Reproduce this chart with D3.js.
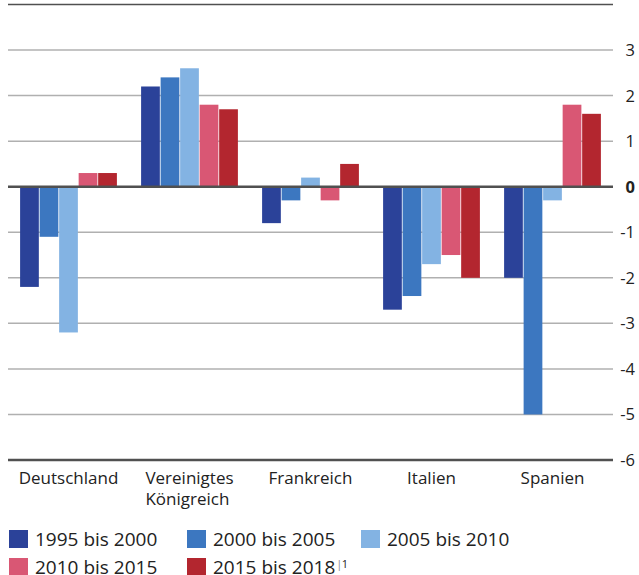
<!DOCTYPE html>
<html>
<head>
<meta charset="utf-8">
<script src="https://cdn.jsdelivr.net/npm/d3@7"></script>
<style>
  body { margin: 0; background: #fff; }
  text { font-family: "Open Sans", "Noto Sans", sans-serif; fill: #222; }
</style>
</head>
<body>
<svg width="639" height="575"></svg>
<script>
// countries on the x axis
let countries = ["Deutschland", "Vereinigtes Königreich", "Frankreich", "Italien", "Spanien"];
let periods = ["1995 bis 2000", "2000 bis 2005", "2005 bis 2010", "2010 bis 2015", "2015 bis 2018"];
let colours = ["#2b4299", "#3c77c0", "#83b3e3", "#d95774", "#b3262f"];

// one array per period, same order as countries
let p1995 = [-2.2, 2.2, -0.8, -2.7, -2.0];
let p2000 = [-1.1, 2.4, -0.3, -2.4, -5.0];
let p2005 = [-3.2, 2.6, 0.2, -1.7, -0.3];
let p2010 = [0.3, 1.8, -0.3, -1.5, 1.8];
let p2015 = [0.3, 1.7, 0.5, -2.0, 1.6];
let series = [p1995, p2000, p2005, p2010, p2015];

let ticks = [3, 2, 1, 0, -1, -2, -3, -4, -5, -6];

window.onload = function() {
  setupChart();
}

function setupChart() {
  let svg = d3.select('svg');
  let left = 8, right = 613, top = 4.5, bottom = 460;

  let y = d3.scaleLinear().domain([-6, 4]).range([bottom, top]);
  let x0 = d3.scaleBand().domain(countries).range([left, right])
    .paddingInner(0.2).paddingOuter(0.1);
  let x1 = d3.scaleBand().domain(d3.range(periods.length)).range([0, x0.bandwidth()])
    .paddingInner(0.04);

  // grid
  svg.selectAll('.grid')
    .data(ticks.filter(t => t !== 0 && t !== -6))
    .enter().append('line')
    .attr('x1', left).attr('x2', right)
    .attr('y1', d => y(d)).attr('y2', d => y(d))
    .style('stroke', '#b0b0b0')
    .style('stroke-width', 1.5);

  // bars
  let group = svg.selectAll('.group')
    .data(countries)
    .enter().append('g')
    .attr('transform', d => 'translate(' + x0(d) + ',0)');

  group.selectAll('rect')
    .data((c, ci) => series.map((s, si) => ({ si: si, v: s[ci] })))
    .enter().append('rect')
    .attr('x', d => x1(d.si))
    .attr('width', x1.bandwidth())
    .attr('y', d => y(Math.max(0, d.v)))
    .attr('height', d => Math.abs(y(d.v) - y(0)))
    .style('fill', d => colours[d.si]);

  // frame lines
  [4, 0, -6].forEach(v => {
    svg.append('line')
      .attr('x1', left).attr('x2', right)
      .attr('y1', y(v)).attr('y2', y(v))
      .style('stroke', '#505050')
      .style('stroke-width', v === 4 ? 1.6 : 2.6);
  });

  // tick labels
  svg.selectAll('.tick')
    .data(ticks)
    .enter().append('text')
    .attr('x', 635)
    .attr('y', d => y(d))
    .attr('dy', '0.36em')
    .attr('text-anchor', 'end')
    .style('font-size', '16.5px')
    .style('font-weight', d => d === 0 ? 'bold' : 'normal')
    .text(d => d);

  // category labels, two-line one is left aligned inside its block
  svg.selectAll('.cat')
    .data(countries)
    .enter().append('text')
    .attr('y', 484)
    .style('font-size', '17px')
    .each(function(d) {
      let t = d3.select(this);
      let cx = x0(d) + x0.bandwidth() / 2;
      let words = d.indexOf(' ') > 0 ? d.split(' ') : [d];
      words.forEach((w, i) => {
        t.append('tspan')
          .attr('dy', i === 0 ? 0 : 20.5)
          .text(w);
      });
      let widest = d3.max(t.selectAll('tspan').nodes(), n => n.getComputedTextLength());
      t.selectAll('tspan').attr('x', cx - widest / 2);
    });

  // legend
  let legX = [9, 187, 361];
  let leg = svg.selectAll('.legend')
    .data(periods)
    .enter().append('g')
    .attr('transform', (d, i) => 'translate(' + legX[i % 3] + ',' + (530 + Math.floor(i / 3) * 28) + ')');
  leg.append('rect')
    .attr('width', 19).attr('height', 18)
    .style('fill', (d, i) => colours[i]);
  let lt = leg.append('text')
    .attr('x', 26).attr('y', 15.5)
    .style('font-size', '19px')
    .text(d => d);
  lt.filter((d, i) => i === 4)
    .append('tspan')
    .attr('dx', 1)
    .attr('dy', -6)
    .style('font-size', '11px')
    .style('fill', '#888')
    .text('|');
  lt.filter((d, i) => i === 4)
    .append('tspan')
    .attr('dx', -0.5)
    .attr('dy', 0)
    .style('font-size', '11px')
    .text('1');
}
</script>
</body>
</html>
